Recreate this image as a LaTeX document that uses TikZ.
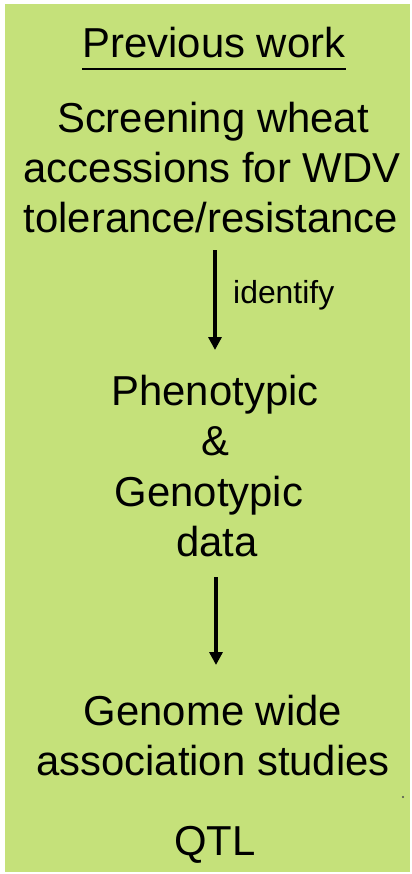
\documentclass[tikz,border=0pt]{standalone}
\usepackage{fontspec}
\setmainfont{Liberation Sans}
\usetikzlibrary{arrows.meta}
\definecolor{panelgreen}{RGB}{197,225,122}
\tikzset{
  bigtext/.style={inner sep=0pt, anchor=base, font=\fontsize{42}{50}\selectfont, text=black},
  smalltext/.style={inner sep=0pt, anchor=base west, font=\fontsize{32}{38}\selectfont, text=black},
  flowarrow/.style={line width=3.6pt, -{Triangle[width=13pt,length=13pt]}}
}
\begin{document}
\begin{tikzpicture}[x=1bp,y=-1bp]
\useasboundingbox (0,0) rectangle (411,874);
\fill[panelgreen] (5,4) rectangle (410,872);
% title
\node[bigtext] (title) at (214,57) {Previous work};
\draw[line width=2.6pt] ([yshift=-12bp]title.base west) -- ([yshift=-12bp]title.base east);
% screening block
\node[bigtext] (scr1) at (213,132) {Screening wheat};
\node[bigtext] (scr2) at (212,182) {accessions for WDV};
\node[bigtext] (scr3) at (211,232) {tolerance/resistance};
% arrow 1
\coordinate (a1s) at (215,250);
\coordinate (a1e) at (215,350);
\draw[flowarrow] (a1s) -- (a1e);
\node[smalltext] (ident) at (233,303) {identify};
% data block
\node[bigtext] (ph1) at (215,405) {Phenotypic};
\node[bigtext] (ph2) at (215,455) {\&};
\node[bigtext] (ph3) at (209,506) {Genotypic};
\node[bigtext] (ph4) at (217,556) {data};
% arrow 2
\coordinate (a2s) at (216,577);
\coordinate (a2e) at (216,665);
\draw[flowarrow] (a2s) -- (a2e);
% gwas block
\node[bigtext] (gw1) at (213,725) {Genome wide};
\node[bigtext] (gw2) at (213,775) {association studies};
\node[bigtext] (qtl) at (215,855) {QTL};
% stray dot
\fill[black!70] (403,797) circle (1.1);
\end{tikzpicture}
\end{document}
